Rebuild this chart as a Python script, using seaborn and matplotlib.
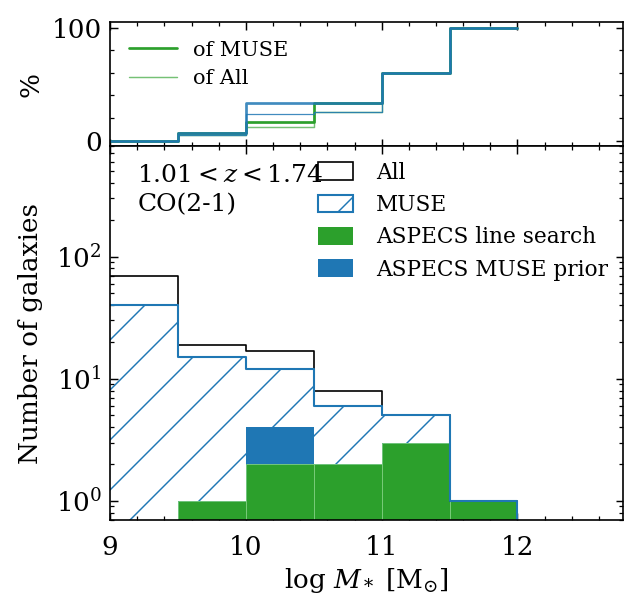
import numpy as np
import matplotlib
matplotlib.use("Agg")
import matplotlib.pyplot as plt
from matplotlib.patches import Patch
from matplotlib.ticker import MultipleLocator
import seaborn as sns

# bins in log stellar mass
edges = [9.0, 9.5, 10.0, 10.5, 11.0, 11.5, 12.0]
n_all = [69, 19, 17, 8, 5, 1]
n_muse = [40, 15, 12, 6, 5, 1]
n_line = [0, 1, 2, 2, 3, 1]
n_prior = [0, 0, 2, 0, 0, 0]

green = "#2ca02c"
blue = "#1f77b4"

sns.set_style("ticks")
plt.rcParams["font.family"] = ["DejaVu Serif"]
plt.rcParams["mathtext.fontset"] = "dejavuserif"
plt.rcParams["font.size"] = 6.3
plt.rcParams["axes.linewidth"] = 0.4
plt.rcParams["axes.edgecolor"] = "k"
plt.rcParams["axes.labelcolor"] = "k"
plt.rcParams["text.color"] = "k"
plt.rcParams["hatch.linewidth"] = 0.35
plt.rcParams["hatch.color"] = blue
for ax_ in ("xtick", "ytick"):
    plt.rcParams[f"{ax_}.direction"] = "in"
    plt.rcParams[f"{ax_}.color"] = "k"
    plt.rcParams[f"{ax_}.major.size"] = 1.8
    plt.rcParams[f"{ax_}.minor.size"] = 1.0
    plt.rcParams[f"{ax_}.major.width"] = 0.35
    plt.rcParams[f"{ax_}.minor.width"] = 0.3
    plt.rcParams[f"{ax_}.labelsize"] = 6.3
plt.rcParams["xtick.major.pad"] = 3.6
plt.rcParams["ytick.major.pad"] = 2.0

bins = list(edges)
x_edges = np.array(edges)
centers = 0.5 * (x_edges[:-1] + x_edges[1:])
n_all = np.array(n_all)
n_muse = np.array(n_muse)
n_line = np.array(n_line)
n_det = n_line + np.array(n_prior)

fig, (ax_top, ax) = plt.subplots(
    2, 1, sharex=True, figsize=(6.44 / 3, 6.10 / 3), dpi=300,
    gridspec_kw=dict(height_ratios=[1, 3], hspace=0,
                     left=0.171, right=0.968, top=0.964, bottom=0.148))

# --- top panel: detection fraction
def steps(vals):
    return np.append(vals, vals[-1])

ax_top.plot(x_edges, steps(100 * n_line / n_muse), drawstyle="steps-post",
            color=green, lw=0.65, label="of MUSE")
ax_top.plot(x_edges, steps(100 * n_line / n_all), drawstyle="steps-post",
            color=green, lw=0.35, alpha=0.65, label="of All")
ax_top.plot(x_edges, steps(100 * n_det / n_muse), drawstyle="steps-post",
            color=blue, lw=0.65, alpha=0.85)
ax_top.plot(x_edges, steps(100 * n_det / n_all), drawstyle="steps-post",
            color=blue, lw=0.3, alpha=0.85)
ax_top.set_ylim(-5, 105)
ax_top.set_ylabel("%", labelpad=2)
ax_top.legend(loc="upper left", frameon=False, fontsize=5.0,
              handlelength=2.3, labelspacing=0.45, borderaxespad=0.5)

# --- bottom panel: histograms
ax.set_yscale("log")
sns.histplot(x=centers, weights=n_all, bins=bins, element="step", fill=False,
             color="k", lw=0.4, ax=ax)
sns.histplot(x=centers, weights=n_muse, bins=bins, element="step", fill=True,
             color=blue, facecolor="none", edgecolor=blue, hatch="//", lw=0.0,
             ax=ax)
sns.histplot(x=centers, weights=n_det, bins=bins, element="bars", color=blue,
             alpha=1, lw=0, ax=ax)
sns.histplot(x=centers, weights=n_line, bins=bins, element="bars", color=green,
             alpha=1, lw=0.2, edgecolor="#7fcf7f", ax=ax)
sns.histplot(x=centers, weights=n_muse, bins=bins, element="step", fill=False,
             color=blue, lw=0.5, ax=ax)
ax.vlines(x_edges[-1], 0.7, n_muse[-1], color=blue, lw=0.5)

ax.set_ylim(0.7, 800)
ax.set_xlim(9, 12.78)
ax.set_ylabel("Number of galaxies", labelpad=2)
ax.set_xlabel(r"$\log\,M_*$ [M$_{\odot}$]", labelpad=1.5)
ax.text(0.053, 0.952, "$1.01 < z < 1.74$\nCO(2-1)", transform=ax.transAxes,
        va="top", ha="left", linespacing=1.35, fontsize=6.0)

handles = [
    Patch(facecolor="none", edgecolor="k", lw=0.4),
    Patch(facecolor="none", edgecolor=blue, hatch="//", lw=0.5),
    Patch(facecolor=green, edgecolor="none"),
    Patch(facecolor=blue, edgecolor="none"),
]
labels = ["All", "MUSE", "ASPECS line search", "ASPECS MUSE prior"]
ax.legend(handles, labels, loc="upper right", frameon=False, fontsize=5.2,
          handlelength=1.65, handleheight=0.9, labelspacing=0.48,
          handletextpad=1.05, borderaxespad=0.3)

for a in (ax_top, ax):
    a.tick_params(which="both", top=True, right=True)
    a.minorticks_on()
ax_top.yaxis.set_major_locator(MultipleLocator(100))
ax_top.yaxis.set_minor_locator(MultipleLocator(20))
ax.xaxis.set_major_locator(MultipleLocator(1))
ax.xaxis.set_minor_locator(MultipleLocator(0.2))
fig.align_ylabels([ax_top, ax])

fig.savefig("out.png", dpi=300)
